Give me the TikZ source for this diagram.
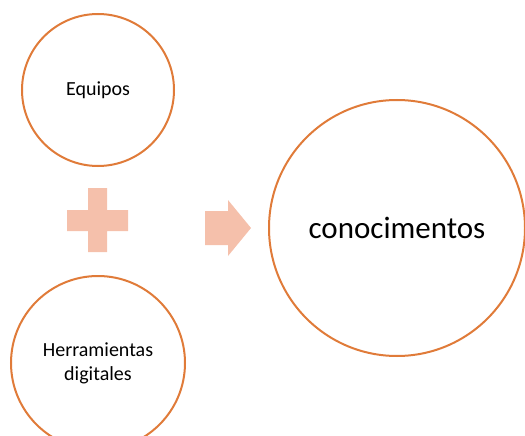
\documentclass[tikz,border=0pt]{standalone}
\usepackage{fontspec}
\setmainfont{Carlito}
\usetikzlibrary{positioning}
\definecolor{ringorange}{HTML}{E07B39}
\definecolor{signpeach}{HTML}{F5C0AB}
\tikzset{ring/.style={circle,draw=ringorange,line width=2pt,fill=white,align=center,inner sep=0pt}}
\begin{document}
\begin{tikzpicture}[x=1pt,y=-1pt]
        \useasboundingbox (0,0) rectangle (525,436);
        \node[ring,minimum size=152pt,font=\fontsize{20}{24}\selectfont] (equipos) at (98,90) {Equipos};
        \node[ring,minimum size=174pt,font=\fontsize{20}{24}\selectfont] (herramientas) at (98,363) {Herramientas\\digitales};
        \node[ring,minimum size=256pt,font=\fontsize{31}{37}\selectfont] (conocimentos) at (397,228) {conocimentos};
        \fill[signpeach] (88,188)--(107,188)--(107,210)--(128,210)--(128,231)--(107,231)--(107,252)--(88,252)--(88,231)--(67,231)--(67,210)--(88,210)--cycle;
        \fill[signpeach] (205,211)--(228,211)--(228,200)--(251,228)--(228,256)--(228,245)--(205,245)--cycle;
      \end{tikzpicture}
\end{document}
